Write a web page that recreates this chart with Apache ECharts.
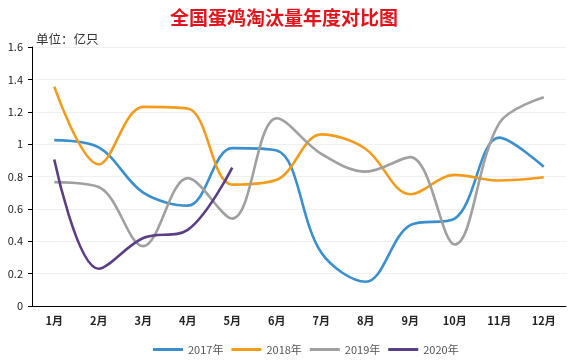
<!DOCTYPE html>
<html>
<head>
<meta charset="utf-8">
<script src="https://cdn.jsdelivr.net/npm/echarts@6/dist/echarts.min.js"></script>
<style>html,body{margin:0;padding:0;background:#fff}#c{width:571px;height:364px}</style>
</head>
<body>
<div id="c"></div>
<script>
const categories = ['1月','2月','3月','4月','5月','6月','7月','8月','9月','10月','11月','12月'];
const yTicks = [0, 0.2, 0.4, 0.6, 0.8, 1, 1.2, 1.4, 1.6];
const s2017 = [1.025, 0.98, 0.70, 0.62, 0.975, 0.96, 0.33, 0.15, 0.50, 0.54, 1.04, 0.86];
const s2018 = [1.355, 0.875, 1.23, 1.22, 0.75, 0.78, 1.06, 0.97, 0.69, 0.81, 0.775, 0.795];
const s2019 = [0.765, 0.735, 0.37, 0.79, 0.54, 1.16, 0.94, 0.83, 0.92, 0.38, 1.13, 1.29];
const s2020 = [0.905, 0.23, 0.42, 0.47, 0.855];
const names = ['2017年','2018年','2019年','2020年'];
const colors = ['#3c8fcd','#f39c1c','#a0a0a0','#5b3f86'];

const chart = echarts.init(document.getElementById('c'), null, {renderer:'canvas'});
const font = '"Microsoft YaHei","Noto Sans CJK SC",sans-serif';
const mk = (name, data, color) => ({
  name, type:'line', data, smooth:0.35, showSymbol:false, symbol:'none',
  lineStyle:{color, width:2.6}, itemStyle:{color}
});
chart.setOption({
  animation:false,
  title:{text:'全国蛋鸡淘汰量年度对比图', left:165, top:3,
    textStyle:{color:'#e0141b', fontSize:19, fontWeight:'bold', fontFamily:font}},
  graphic:[{type:'text', left:36, top:33, style:{text:'单位：亿只', fontSize:12.5, fill:'#333', fontFamily:font}}],
  legend:{bottom:4, left:148, itemWidth:30, itemHeight:3, itemGap:8, icon:'rect',
    textStyle:{fontSize:11, color:'#555', fontFamily:font}, data:names},
  grid:{left:32, right:5, top:47, bottom:58},
  xAxis:{type:'category', data:categories, boundaryGap:true,
    axisLine:{lineStyle:{color:'#000', width:1}}, axisTick:{show:false},
    axisLabel:{fontSize:11, color:'#222', fontWeight:'bold', margin:9, fontFamily:font}},
  yAxis:{type:'value', min:0, max:1.6, interval:0.2,
    axisLine:{show:true, lineStyle:{color:'#000'}}, axisTick:{show:true, length:4, inside:false, lineStyle:{color:'#000'}},
    splitLine:{lineStyle:{color:'#f0f0f0'}},
    axisLabel:{fontSize:11, color:'#222', margin:9, fontFamily:font,
      formatter:v => { const t = yTicks.find(x => Math.abs(x - v) < 1e-6); return t === undefined ? '' : String(t); }}},
  series:[mk(names[0], s2017, colors[0]), mk(names[1], s2018, colors[1]), mk(names[2], s2019, colors[2]), mk(names[3], s2020, colors[3])]
});
</script>
</body>
</html>
